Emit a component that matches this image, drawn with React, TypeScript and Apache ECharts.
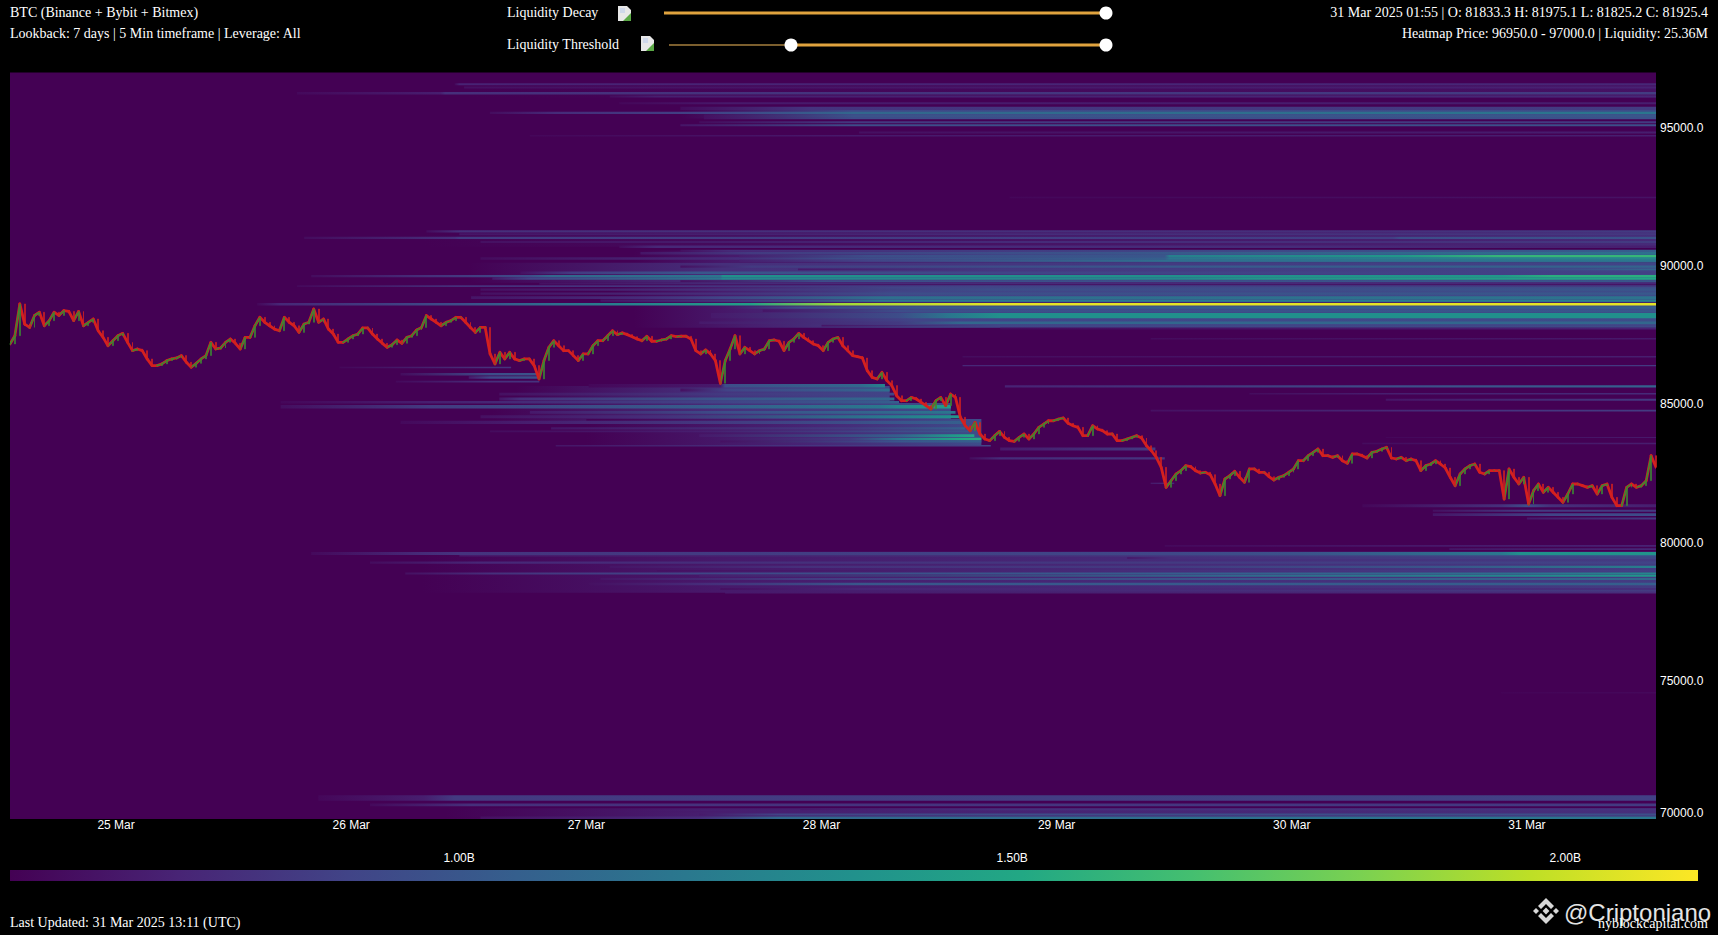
import React, { useEffect, useRef } from "react";
import * as echarts from "echarts";

const VIRIDIS = ["#440154","#482475","#414487","#355f8d","#2a788e","#21918c","#22a884","#44bf70","#7ad151","#bddf26","#fde725"];
const COLOR_MIN = 0.594;
const COLOR_MAX = 2.12;
const T0 = 24.549, T1 = 31.549;

const dayTicks = [25, 26, 27, 28, 29, 30, 31];
const priceTicks = [70000, 75000, 80000, 85000, 90000, 95000];
const colorTicks = [1, 1.5, 2];

// candle closes, about one every 30 minutes from 24 Mar 13:11
const closes = [
87180,87480,88630,87900,87780,88210,88330,87840,88025,88330,88210,88390,88360,88025,88360,87840,87965,88085,87660,87420,87120,87300,87480,87565,87240,86940,87000,86940,86640,86400,86400,86460,86580,86640,86675,86760,86520,86340,86480,86640,86760,87240,87000,87035,87240,87360,87205,87000,87420,87420,87840,88145,87965,87840,87720,87660,88145,87965,87840,87600,87900,87965,88445,87965,88085,87720,87540,87240,87240,87360,87480,87540,87760,87760,87540,87360,87205,87060,87155,87325,87205,87420,87480,87690,87780,88210,88085,87965,87840,87965,88025,88145,88145,87965,87780,87600,87780,87780,86820,86460,86880,86640,86880,86640,86580,86640,86640,86400,85915,86580,87060,87300,87120,86940,86940,86760,86580,86820,86820,87120,87300,
87300,87480,87660,87520,87580,87520,87445,87360,87300,87460,87280,87280,87325,87360,87480,87445,87460,87460,87360,86940,86820,86965,86820,86580,85760,86580,87000,87480,86820,87060,86940,86820,86940,87000,87300,87325,87280,86940,87240,87360,87565,87420,87300,87180,87120,86940,87240,87360,87420,87120,86940,86760,86725,86675,86215,85975,85915,86155,85855,85675,85310,85130,85130,85250,85190,85070,84950,84830,85130,85250,84950,85370,85250,84530,84225,84045,84345,83925,83745,83685,83865,84020,83805,83685,83660,83805,83925,83745,83925,84165,84285,84405,84405,84465,84505,84310,84225,84165,83865,83865,84225,84105,84045,83925,83925,83685,83685,83745,83805,83865,83780,83500,83320,83080,82720,81995,82235,82475,82600,82780,
82744,82600,82515,82540,82455,82117,81695,82297,82418,82575,82358,82177,82660,82660,82540,82540,82382,82261,82358,82418,82540,82660,82961,82961,83142,83262,83383,83142,83142,83081,83142,82961,82864,83202,83202,83142,83057,83262,83298,83383,83443,83057,83021,83081,82961,83021,82961,82600,82780,82840,82961,82840,82696,82358,82056,82478,82660,82780,82840,82540,82478,82600,82600,82600,81574,82660,82358,82117,82358,81393,81875,82117,81815,81996,81815,81634,81453,81755,82117,82117,82056,81996,82056,81755,82056,82117,81634,81333,81333,81996,82117,81996,82056,82237,83142,82720,
];

// each band: price, span in USD, then day / liquidity (billions) pairs
const bandsTop = [
[96340,480,26.5,.594,31.549,.67],
[95515,360,27.4,.594,28.13,.92,31.549,.95],
[96577,70,26.44,.62,26.46,.74,31.549,.76],
[96457,70,26.48,.66,31.549,.74],
[96250,90,25.77,.63,26.38,.72,26.4,.8,31.549,.86],
[96130,70,27.1,.64,27.3,.72,31.549,.76],
[95890,70,27.14,.62,27.6,.7,31.549,.72],
[95700,120,27.4,.64,27.95,.82,31.549,.86],
[95440,90,27.5,.66,28.14,.98,31.549,1.0],
[95350,90,27.5,.66,28.14,.95,31.549,.98],
[95540,80,26.59,.64,26.87,.78,27.65,.92,28.14,1.1,31.549,1.2],
[95200,70,27.48,.64,28.14,.84,31.549,.85],
[95090,70,27.4,.68,28.14,.95,31.549,.96],
[94830,70,28.16,.66,31.549,.72],
[94710,50,26.76,.62,28.16,.7,31.549,.72],
[92480,50,28.8,.62,31.549,.67],
];

const bands90k = [
[90980,560,26.3,.594,30.4,.72,31.549,.78],
[90340,440,27.2,.594,27.6,.7,28.76,.85,29.48,.95,31.549,1.05],
[89760,720,26.5,.594,27.58,.8,29.48,.85,31.549,.9],
[88985,610,27.1,.594,27.6,.72,28.3,.9,31.549,.95],
[88185,830,27.2,.594,27.7,.72,28.4,.9,31.549,.95],
[91257,80,26.32,.64,26.46,.8,30.4,.8,31.549,.86],
[91150,70,26.46,.68,28.8,.78,31.549,.84],
[91020,80,25.8,.64,26.44,.8,26.46,.85,30.43,.87,30.46,.95,31.549,.98],
[90870,70,26.55,.66,28.8,.78,30.4,.8,31.549,.86],
[90700,90,27.14,.64,27.3,.76,30,.78,31.549,.72],
[90550,70,27.4,.66,27.6,.78,28.6,.85,30.4,.95,31.549,1.05],
[90460,90,27.23,.68,27.7,.85,28.76,.95,30.46,1.1,31.549,1.15],
[90270,90,26.55,.64,27.6,.78,28.07,.95,28.76,1,29.46,1.05,29.48,1.2,31.549,1.3],
[90190,70,27.65,.72,28.2,.9,29.46,1.15,31.549,1.2],
[90360,80,27.65,.72,28.2,.95,29.46,1,29.48,1.25,30.46,1.4,30.89,1.6,31.549,1.6],
[89980,80,27.4,.66,27.7,.85,28.76,.95,29.48,1.02,31.549,1.08],
[89880,70,27.9,.7,28.76,.85,31,.9,31.3,1,31.549,1.1],
[89760,90,26.72,.66,26.94,.85,27.48,1,28.76,.9,31.549,.88],
[89635,90,25.83,.64,26.33,.8,26.76,.95,26.85,1.1,27.57,1.18,27.58,1.35,29.48,1.35,30.89,1.4,31.1,1.55,31.549,1.55],
[89545,90,26.6,.7,26.76,.9,27.57,1.2,27.58,1.3,29.48,1.3,29.9,1.4,31,1.45,31.549,1.5],
[89455,70,27.4,.66,28,.95,31.549,1],
[89365,60,26.8,.66,27.6,.78,29,.78,31.549,.76],
[89275,60,25.77,.63,26.46,.8,27.6,.82,28.7,.9,31.549,.86],
[89147,90,26.55,.66,27.57,.8,28.72,.95,30.2,.95,31.549,1],
[89002,90,26.55,.66,27.57,.8,28.3,.95,31.549,1.02],
[88857,100,26.51,.68,27.23,.78,27.57,.9,28.25,1.15,31.549,1.18],
[88749,90,27.06,.68,27.99,.95,28.25,1.2,31.549,1.25],
[88495,80,27.57,.68,27.91,.95,28.76,1.05,31.549,1.05],
[88387,90,27.75,.68,28.33,.95,31.549,1],
[88206,190,27.53,.7,28.33,.95,28.55,1.2,28.76,1.35,31.549,1.35],
[87953,90,27.48,.7,28.33,.85,28.59,1.1,31.549,1.1],
[87844,70,28,.68,28.76,.9,31.549,.9],
[87735,60,28.76,.64,31.549,.74],
[87370,50,29.4,.64,31.549,.7],
[88615,90,25.6,.62,25.7,.76,26.46,.95,26.87,1.15,27.14,1.25,27.7,1.45,28.07,1.9,28.76,2.06,31.549,2.06],
];

const bands85k = [
[85350,620,26.7,.594,27.59,.82,28.29,.9],
[84700,700,26.6,.594,27.59,.8,28.55,.95],
[83980,970,27.0,.594,28,.76,28.6,.92,28.68,.95],
[86330,60,25.95,.62,26.55,.8,26.68,.82],
[86090,90,26.21,.64,26.59,.95,26.8,.98],
[85970,90,26.5,.7,26.59,.92,26.8,.98],
[85820,60,26.19,.63,26.59,.8,26.8,.82],
[86720,60,28.6,.64,31.549,.72],
[86400,50,28.6,.76,31.549,.85],
[85670,120,27.01,.62,27.57,.7,27.59,.95,28.16,1.1,28.25,1.25,28.27,1.28],
[85515,110,27.4,.66,27.6,.9,28.16,1.05,28.29,1.15],
[85370,100,26.63,.66,27.59,.85,28.31,.9],
[85190,110,26.63,.68,26.72,.8,27.59,1,28.31,1.1],
[85070,90,25.7,.62,26.33,.72,27.59,.9,28.12,1,28.33,1.05],
[84910,130,25.7,.65,26.33,.85,27.59,1.05,28.25,1.2,28.33,1.3,28.55,1.45],
[84705,100,26.76,.7,27.59,.95,28.25,1.1,28.57,1.2],
[84550,110,26.55,.66,27.31,.8,28.25,1.2,28.55,1.35,28.59,1.4],
[84345,110,26.21,.63,26.76,.72,27.59,.85,28.33,1,28.6,1.05],
[84130,80,26.85,.68,28.12,.85,28.59,1.05,28.61,1.08],
[84020,70,26.59,.64,27.48,.72,28.33,.95,28.63,1],
[83865,100,27.48,.7,28.33,1.05,28.55,1.4,28.65,1.5],
[83745,90,27.53,.68,28.12,.85,28.33,1.2,28.59,1.5,28.68,1.55],
[83655,70,27.57,.66,28.25,.95,28.33,1,28.68,1.05],
[83500,60,26.87,.68,27.91,.82,28.72,.9],
[83380,110,28.76,.7,29.4,.85,29.42,.86],
[83040,80,28.63,.64,28.76,.78,29.4,.82,29.46,.82],
[82140,50,29.4,.7,29.5,.78],
[85650,80,28.78,.74,30.46,.95,31.4,1.05,31.549,1.08],
[85380,60,29.82,.64,30.4,.72,31.549,.78],
[85165,70,30.4,.68,31.549,.85],
[84770,70,29.4,.66,30.89,.82,31.549,.86],
[83800,40,30.4,.62,31.549,.7],
[83580,50,30.3,.64,31.549,.72],
[81330,110,30.3,.62,30.89,.8,31,.95,31.1,.8,31.549,.72],
[81150,70,30.6,.66,31,.85,31.549,.85],
[81010,100,30.6,.68,31.1,.9,31.549,.95],
[80870,70,31,.7,31.549,.85],
];

const bands80k = [
[78925,1490,26.3,.594,27.6,.7,29.48,.78,31.549,.86],
[79880,60,29.46,.63,30.67,.7,31.549,.74],
[79760,60,30.67,.68,31.549,.76],
[79600,110,25.83,.63,26.31,.78,26.46,.82,29.48,.92,30.03,.98,30.89,1.2,30.97,1.35,31.549,1.38],
[79520,60,26.46,.7,29.48,.85,31.549,1.05],
[79440,60,29.3,.68,29.48,.8,31.549,.95],
[79270,80,26.08,.64,26.55,.76,29.48,.85,31.549,.9],
[79120,80,27.1,.68,27.91,.8,29.48,.85,30.67,1,31.549,1.25],
[78980,60,27.3,.66,29.48,.8,31.549,.88],
[78880,70,26.23,.66,26.59,.8,26.87,.85,27.91,.95,29.7,1.05,30.97,1.15,31.549,1.3],
[78800,70,27.48,.72,29.7,1.1,30.97,1.3,31.549,1.4],
[78680,80,27.06,.68,27.91,.85,29.82,1,31.549,1.1],
[78500,90,27.01,.66,27.48,.78,28.16,1,31.549,1.05],
[78320,70,27.57,.66,28.16,.75,31.549,.8],
[78195,70,27.59,.7,31.549,.8],
[74560,30,30.89,.62,31.549,.66],
];

const bands70k = [
[70150,470,26.4,.594,27.5,.72,31.549,.8],
[70760,200,25.86,.62,26.31,.72,26.44,.85,31.549,.88],
[70510,100,26.08,.63,26.51,.8,31.549,.85],
[70350,60,27.91,.7,28.76,.8,31.549,.82],
[70260,50,27.14,.68,27.65,.72,31.549,.8],
[70160,70,27.48,.7,27.82,.9,28.76,.95,31.549,.96],
[70040,100,26.55,.66,27.48,.78,27.82,1.1,31.549,1.2],
];

const leftHeader = ["BTC (Binance + Bybit + Bitmex)", "Lookback: 7 days | 5 Min timeframe | Leverage: All"];
const rightHeader = ["31 Mar 2025 01:55 | O: 81833.3 H: 81975.1 L: 81825.2 C: 81925.4", "Heatmap Price: 96950.0 - 97000.0 | Liquidity: 25.36M"];
const sliderLabels = ["Liquidity Decay", "Liquidity Threshold"];
const footer = "Last Updated: 31 Mar 2025 13:11 (UTC)";
const handle = "@Criptoniano";
const site = "nyblockcapital.com";

const allBands = [...bandsTop, ...bands90k, ...bands85k, ...bands80k, ...bands70k];

function hexRgb(h: string) {
  return [parseInt(h.slice(1, 3), 16), parseInt(h.slice(3, 5), 16), parseInt(h.slice(5, 7), 16)];
}
function colorOf(v: number) {
  const t = Math.max(0, Math.min(1, (v - COLOR_MIN) / (COLOR_MAX - COLOR_MIN))) * (VIRIDIS.length - 1);
  const i = Math.min(VIRIDIS.length - 2, Math.floor(t));
  const a = hexRgb(VIRIDIS[i]), b = hexRgb(VIRIDIS[i + 1]);
  const f = t - i;
  return `rgb(${a.map((c, k) => Math.round(c + (b[k] - c) * f)).join(",")})`;
}

const SERIF = '"Liberation Serif", serif';
const SANS = '"Liberation Sans", sans-serif';
const ORANGE = "#e0a33e";
const UP = "#3a8a32";
const DOWN = "#d4201f";

function serifText(text: string, x: number, y: number, align = "left") {
  return {
    type: "text", x, y, silent: true,
    style: { text, fill: "#fff", font: `14px ${SERIF}`, textAlign: align, textVerticalAlign: "middle" },
  };
}
function brokenIcon(x: number, y: number) {
  return {
    type: "group", x, y, silent: true,
    children: [
      { type: "polygon", shape: { points: [[0, 0], [9, 0], [13, 4], [13, 15], [0, 15]] }, style: { fill: "#e8e8e8" } },
      { type: "polygon", shape: { points: [[5, 15], [13, 7], [13, 15]] }, style: { fill: "#5aa845" } },
      { type: "polygon", shape: { points: [[2, 2], [7, 2], [7, 7], [2, 7]] }, style: { fill: "#cfd8ea" } },
    ],
  };
}
function slider(x0: number, xMid: number, x1: number, y: number) {
  const parts: any[] = [];
  if (xMid > x0) {
    parts.push({ type: "line", silent: true, shape: { x1: x0, y1: y, x2: xMid, y2: y }, style: { stroke: "#7c5f2e", lineWidth: 2 } });
  }
  parts.push({ type: "line", silent: true, shape: { x1: xMid, y1: y, x2: x1, y2: y }, style: { stroke: ORANGE, lineWidth: 3 } });
  if (xMid > x0) parts.push({ type: "circle", silent: true, shape: { cx: xMid, cy: y, r: 6.5 }, style: { fill: "#fff" } });
  parts.push({ type: "circle", silent: true, shape: { cx: x1, cy: y, r: 6.5 }, style: { fill: "#fff" } });
  return parts;
}
function logo(cx: number, cy: number) {
  const c = "#d8d8d8";
  const pts = (p: number[][]) => p.map(([a, b]) => [cx + a, cy + b]);
  const diamond = (dx: number, r: number) => pts([[dx, -r], [dx + r, 0], [dx, r], [dx - r, 0]]);
  return [
    [[0, -13], [8, -5], [5, -2], [0, -7], [-5, -2], [-8, -5]],
    [[0, 13], [8, 5], [5, 2], [0, 7], [-5, 2], [-8, 5]],
  ].map((p) => ({ type: "polygon", silent: true, shape: { points: pts(p) }, style: { fill: c } })).concat(
    [diamond(0, 3.4), diamond(-10, 3), diamond(10, 3)].map((p) => ({ type: "polygon", silent: true, shape: { points: p }, style: { fill: c } })) as any
  );
}

export default function App() {
  const ref = useRef<HTMLDivElement>(null);
  useEffect(() => {
    const chart = echarts.init(ref.current!, undefined, { renderer: "svg" });
    const dayOf = (i: number) => T0 + (i * (T1 - T0)) / (closes.length - 1);
    const candles = closes.map((c, i) => {
      const o = i === 0 ? c : closes[i - 1];
      return [dayOf(i), o, c, Math.min(o, c), Math.max(o, c)];
    });
    chart.setOption({
      animation: false,
      backgroundColor: "#000",
      grid: [
        { left: 10, top: 72.5, width: 1646, height: 746.5, show: true, backgroundColor: "#440154", borderWidth: 0 },
        { left: 10, top: 870, width: 1688, height: 11, show: false },
      ],
      xAxis: [
        {
          type: "value", gridIndex: 0, min: T0, max: T1, splitLine: { show: false },
          axisLine: { show: false }, axisTick: { show: false },
          axisLabel: { customValues: dayTicks, formatter: (v: number) => `${v} Mar`, color: "#fff", fontFamily: SANS, fontSize: 12, margin: 0, hideOverlap: false },
        },
        {
          type: "value", gridIndex: 1, min: COLOR_MIN, max: COLOR_MAX, position: "top", splitLine: { show: false },
          axisLine: { show: false }, axisTick: { show: false },
          axisLabel: { customValues: colorTicks, formatter: (v: number) => `${v.toFixed(2)}B`, color: "#fff", fontFamily: SANS, fontSize: 12, margin: 6 },
        },
      ],
      yAxis: [
        {
          type: "value", gridIndex: 0, min: 70000, max: 97000, position: "right", splitLine: { show: false },
          axisLine: { show: false }, axisTick: { show: false },
          axisLabel: { customValues: priceTicks, formatter: (v: number) => v.toFixed(1), color: "#fff", fontFamily: SANS, fontSize: 12, margin: 4, verticalAlignMinLabel: "bottom" },
        },
        { type: "value", gridIndex: 1, min: 0, max: 1, show: false },
      ],
      series: [
        {
          type: "custom", xAxisIndex: 0, yAxisIndex: 0, clip: true, silent: true, z: 2,
          data: allBands.map((_, i) => [i]),
          renderItem: (_p: any, api: any) => {
            const b = allBands[api.value(0)];
            const price = b[0], span = b[1];
            const days: number[] = [], vals: number[] = [];
            for (let i = 2; i < b.length; i += 2) { days.push(b[i]); vals.push(b[i + 1]); }
            const d0 = days[0], d1 = days[days.length - 1];
            const a = api.coord([d0, price + span / 2]);
            const z = api.coord([d1, price - span / 2]);
            return {
              type: "rect",
              shape: { x: a[0], y: a[1], width: z[0] - a[0], height: z[1] - a[1] },
              style: {
                fill: {
                  type: "linear", x: 0, y: 0, x2: 1, y2: 0,
                  colorStops: days.map((d, i) => ({ offset: (d - d0) / (d1 - d0), color: colorOf(vals[i]) })),
                },
              },
            };
          },
        },
        {
          type: "custom", xAxisIndex: 0, yAxisIndex: 0, clip: true, silent: true, z: 4,
          data: candles.map((c) => [c[0], c[1], c[2]]),
          renderItem: (params: any, api: any) => {
            const i = params.dataIndex;
            const o = api.value(1), c = api.value(2);
            const a = api.coord([i === 0 ? api.value(0) : dayOf(i - 1), o]);
            const z = api.coord([api.value(0), c]);
            const shape = { x1: a[0], y1: a[1], x2: z[0], y2: z[1] };
            return {
              type: "group",
              children: [
                { type: "line", shape, style: { stroke: DOWN, lineWidth: 2.8, lineCap: "round" } },
                ...(c > o ? [{ type: "line", shape, style: { stroke: UP, lineWidth: 1.6, lineCap: "round" } }] : []),
              ],
            };
          },
        },
        {
          type: "candlestick", xAxisIndex: 0, yAxisIndex: 0, z: 5, silent: true, barWidth: 1.4, clip: true,
          encode: { x: 0, y: [1, 2, 3, 4] },
          data: candles,
          itemStyle: { color: UP, color0: DOWN, borderColor: UP, borderColor0: DOWN, borderWidth: 0.6 },
        },
        {
          type: "custom", xAxisIndex: 1, yAxisIndex: 1, silent: true, clip: false,
          data: [[COLOR_MIN, COLOR_MAX]],
          renderItem: (_p: any, api: any) => {
            const a = api.coord([api.value(0), 1]);
            const z = api.coord([api.value(1), 0]);
            return {
              type: "rect",
              shape: { x: a[0], y: a[1], width: z[0] - a[0], height: z[1] - a[1] },
              style: {
                fill: {
                  type: "linear", x: 0, y: 0, x2: 1, y2: 0,
                  colorStops: VIRIDIS.map((color, i) => ({ offset: i / (VIRIDIS.length - 1), color })),
                },
              },
            };
          },
        },
      ],
      graphic: { elements: [
        serifText(leftHeader[0], 10, 12),
        serifText(leftHeader[1], 10, 33),
        serifText(rightHeader[0], 1708, 12, "right"),
        serifText(rightHeader[1], 1708, 33, "right"),
        serifText(sliderLabels[0], 507, 12),
        serifText(sliderLabels[1], 507, 44),
        brokenIcon(618, 6),
        brokenIcon(641, 36),
        ...slider(664, 664, 1106, 13),
        ...slider(669, 791, 1106, 45),
        serifText(footer, 10, 922),
        ...logo(1546, 911),
        { type: "text", x: 1564, y: 912, silent: true, style: { text: handle, fill: "#e4e4e4", font: `24px ${SANS}`, textVerticalAlign: "middle" } },
        { type: "text", x: 1708, y: 923, silent: true, style: { text: site, fill: "#fff", font: `14px ${SERIF}`, textAlign: "right", textVerticalAlign: "middle" } },
      ] },
    });
    return () => chart.dispose();
  }, []);
  return <div ref={ref} style={{ position: "fixed", left: 0, top: 0, width: 1718, height: 935, background: "#000" }} />;
}
